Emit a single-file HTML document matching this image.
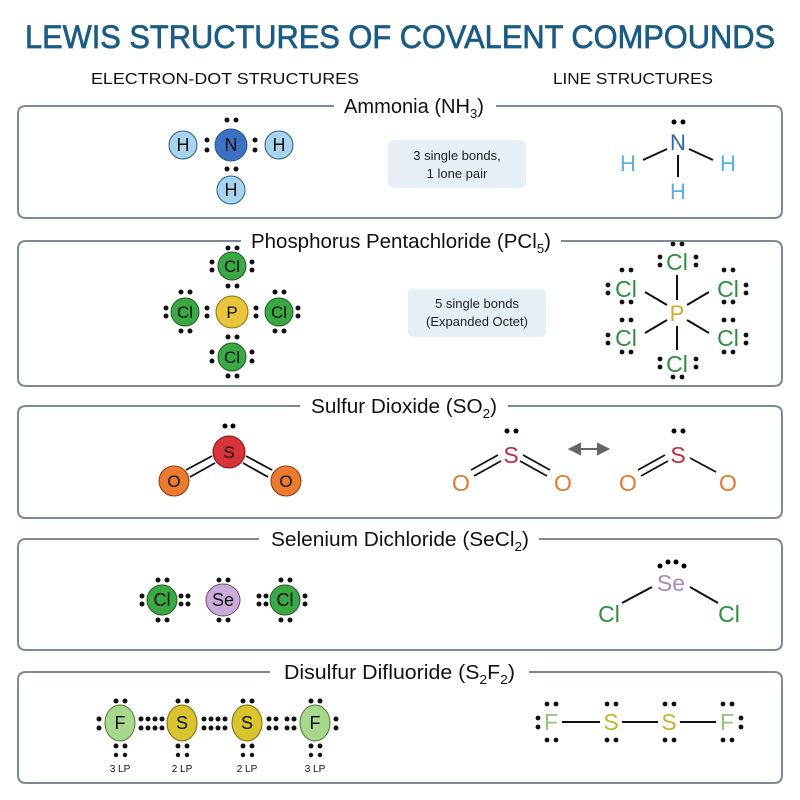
<!DOCTYPE html>
<html><head><meta charset="utf-8"><style>
html,body{margin:0;padding:0;background:#fff}
svg{display:block}
text{font-family:"Liberation Sans",sans-serif}
</style></head><body>
<svg width="800" height="800" viewBox="0 0 800 800" xmlns="http://www.w3.org/2000/svg">
<rect width="800" height="800" fill="#fff"/>
<text x="400" y="48" text-anchor="middle" font-size="32" fill="#1b5c84" stroke="#1b5c84" stroke-width="0.7" textLength="750" lengthAdjust="spacingAndGlyphs">LEWIS STRUCTURES OF COVALENT COMPOUNDS</text>
<text x="225" y="84" text-anchor="middle" font-size="16" fill="#111" textLength="268" lengthAdjust="spacingAndGlyphs">ELECTRON-DOT STRUCTURES</text>
<text x="633" y="84" text-anchor="middle" font-size="16" fill="#111" textLength="160" lengthAdjust="spacingAndGlyphs">LINE STRUCTURES</text>

<g fill="none" stroke="#7d8a94" stroke-width="2">
<path d="M334 106 H26 Q18 106 18 114 V210 Q18 218 26 218 H774 Q782 218 782 210 V114 Q782 106 774 106 H496"/>
<path d="M241 241 H26 Q18 241 18 249 V378 Q18 386 26 386 H774 Q782 386 782 378 V249 Q782 241 774 241 H561"/>
<path d="M300 406 H26 Q18 406 18 414 V510 Q18 518 26 518 H774 Q782 518 782 510 V414 Q782 406 774 406 H508"/>
<path d="M259 539 H26 Q18 539 18 547 V642 Q18 650 26 650 H774 Q782 650 782 642 V547 Q782 539 774 539 H539"/>
<path d="M270 672 H26 Q18 672 18 680 V775 Q18 783 26 783 H774 Q782 783 782 775 V680 Q782 672 774 672 H529"/>
</g>
<g font-size="20" fill="#111">
<text x="344" y="113" textLength="140" lengthAdjust="spacingAndGlyphs">Ammonia (NH<tspan font-size="13" dy="5">3</tspan><tspan dy="-5">)</tspan></text>
<text x="251" y="248" textLength="300" lengthAdjust="spacingAndGlyphs">Phosphorus Pentachloride (PCl<tspan font-size="13" dy="5">5</tspan><tspan dy="-5">)</tspan></text>
<text x="311" y="413" textLength="186" lengthAdjust="spacingAndGlyphs">Sulfur Dioxide (SO<tspan font-size="13" dy="5">2</tspan><tspan dy="-5">)</tspan></text>
<text x="271" y="546" textLength="258" lengthAdjust="spacingAndGlyphs">Selenium Dichloride (SeCl<tspan font-size="13" dy="5">2</tspan><tspan dy="-5">)</tspan></text>
<text x="284" y="679" textLength="231" lengthAdjust="spacingAndGlyphs">Disulfur Difluoride (S<tspan font-size="13" dy="5">2</tspan><tspan dy="-5">F</tspan><tspan font-size="13" dy="5">2</tspan><tspan dy="-5">)</tspan></text>
</g>

<!-- note boxes -->
<rect x="388" y="140" width="138" height="48" rx="5" fill="#e5eff5"/>
<text x="457" y="160" text-anchor="middle" font-size="13" fill="#222">3 single bonds,</text>
<text x="457" y="178" text-anchor="middle" font-size="13" fill="#222">1 lone pair</text>
<rect x="408" y="289" width="138" height="48" rx="5" fill="#e5eff5"/>
<text x="477" y="308" text-anchor="middle" font-size="13" fill="#222">5 single bonds</text>
<text x="477" y="326" text-anchor="middle" font-size="13" fill="#222">(Expanded Octet)</text>

<!-- AMMONIA dot -->
<g stroke="#2b5f8a" stroke-width="1">
<circle cx="183" cy="145" r="14" fill="#a9d4ee"/>
<circle cx="279" cy="145" r="14" fill="#a9d4ee"/>
<circle cx="231" cy="190" r="14" fill="#a9d4ee"/>
<circle cx="231" cy="145" r="16" fill="#3d6fc4"/>
</g>
<g font-size="18" text-anchor="middle" fill="#111">
<text x="183" y="151">H</text><text x="279" y="151">H</text><text x="231" y="196">H</text><text x="231" y="151">N</text>
</g>
<g fill="#111">
<circle cx="227" cy="120" r="2.5"/><circle cx="236" cy="120" r="2.5"/>
<circle cx="207" cy="140" r="2.5"/><circle cx="207" cy="150" r="2.5"/>
<circle cx="255" cy="140" r="2.5"/><circle cx="255" cy="150" r="2.5"/>
<circle cx="227" cy="169" r="2.5"/><circle cx="236" cy="169" r="2.5"/>
</g>
<!-- AMMONIA line -->
<g stroke="#111" stroke-width="2"><line x1="667" y1="149" x2="643" y2="160"/><line x1="689" y1="149" x2="713" y2="160"/><line x1="678" y1="155" x2="678" y2="177"/></g>
<text x="678" y="150" text-anchor="middle" font-size="22" fill="#2a66b0">N</text>
<g font-size="22" text-anchor="middle" fill="#5ab0e2"><text x="628" y="171">H</text><text x="728" y="171">H</text><text x="678" y="199">H</text></g>
<circle cx="674" cy="122" r="2.5"/><circle cx="683" cy="122" r="2.5"/>

<!-- PCl5 dot -->
<g stroke="#1f5a22" stroke-width="1" fill="#3aa845">
<circle cx="232" cy="266" r="14"/><circle cx="185" cy="312" r="14"/><circle cx="279" cy="312" r="14"/><circle cx="232" cy="357" r="14"/>
</g>
<circle cx="232" cy="312" r="16" fill="#e8c53a" stroke="#8a7010"/>
<g font-size="17" text-anchor="middle" fill="#111">
<text x="232" y="272">Cl</text><text x="185" y="318">Cl</text><text x="279" y="318">Cl</text><text x="232" y="363">Cl</text><text x="232" y="318">P</text>
</g>
<g fill="#111">
<circle cx="228" cy="248" r="2.5"/><circle cx="237" cy="248" r="2.5"/>
<circle cx="212" cy="262" r="2.5"/><circle cx="212" cy="270" r="2.5"/><circle cx="252" cy="262" r="2.5"/><circle cx="252" cy="270" r="2.5"/>
<circle cx="228" cy="286" r="2.5"/><circle cx="237" cy="286" r="2.5"/>
<circle cx="181" cy="292" r="2.5"/><circle cx="190" cy="292" r="2.5"/><circle cx="181" cy="331" r="2.5"/><circle cx="190" cy="331" r="2.5"/>
<circle cx="166" cy="308" r="2.5"/><circle cx="166" cy="316" r="2.5"/><circle cx="207" cy="308" r="2.5"/><circle cx="207" cy="316" r="2.5"/>
<circle cx="256" cy="308" r="2.5"/><circle cx="256" cy="316" r="2.5"/><circle cx="298" cy="308" r="2.5"/><circle cx="298" cy="316" r="2.5"/>
<circle cx="275" cy="292" r="2.5"/><circle cx="284" cy="292" r="2.5"/><circle cx="275" cy="331" r="2.5"/><circle cx="284" cy="331" r="2.5"/>
<circle cx="228" cy="337" r="2.5"/><circle cx="237" cy="337" r="2.5"/>
<circle cx="212" cy="352" r="2.5"/><circle cx="212" cy="361" r="2.5"/><circle cx="252" cy="352" r="2.5"/><circle cx="252" cy="361" r="2.5"/>
<circle cx="228" cy="376" r="2.5"/><circle cx="237" cy="376" r="2.5"/>
</g>
<!-- PCl5 line -->
<g stroke="#111" stroke-width="2">
<line x1="677" y1="275" x2="677" y2="300"/><line x1="677" y1="326" x2="677" y2="350"/>
<line x1="645" y1="292" x2="667" y2="305"/><line x1="709" y1="292" x2="687" y2="305"/>
<line x1="645" y1="333" x2="667" y2="320"/><line x1="709" y1="333" x2="687" y2="320"/>
</g>
<text x="677" y="321" text-anchor="middle" font-size="22" fill="#d4a62a">P</text>
<g font-size="23" text-anchor="middle" fill="#2e8f3a">
<text x="677" y="270">Cl</text><text x="626" y="297">Cl</text><text x="728" y="297">Cl</text><text x="626" y="346">Cl</text><text x="728" y="346">Cl</text><text x="677" y="372">Cl</text>
</g>
<g fill="#111">
<circle cx="673" cy="244" r="2.4"/><circle cx="682" cy="244" r="2.4"/><circle cx="660" cy="257" r="2.4"/><circle cx="660" cy="265" r="2.4"/><circle cx="696" cy="257" r="2.4"/><circle cx="696" cy="265" r="2.4"/>
<circle cx="622" cy="270" r="2.4"/><circle cx="631" cy="270" r="2.4"/><circle cx="622" cy="302" r="2.4"/><circle cx="631" cy="302" r="2.4"/><circle cx="608" cy="285" r="2.4"/><circle cx="608" cy="293" r="2.4"/>
<circle cx="724" cy="270" r="2.4"/><circle cx="733" cy="270" r="2.4"/><circle cx="724" cy="302" r="2.4"/><circle cx="733" cy="302" r="2.4"/><circle cx="746" cy="285" r="2.4"/><circle cx="746" cy="293" r="2.4"/>
<circle cx="622" cy="320" r="2.4"/><circle cx="631" cy="320" r="2.4"/><circle cx="622" cy="352" r="2.4"/><circle cx="631" cy="352" r="2.4"/><circle cx="608" cy="335" r="2.4"/><circle cx="608" cy="343" r="2.4"/>
<circle cx="724" cy="320" r="2.4"/><circle cx="733" cy="320" r="2.4"/><circle cx="724" cy="352" r="2.4"/><circle cx="733" cy="352" r="2.4"/><circle cx="746" cy="335" r="2.4"/><circle cx="746" cy="343" r="2.4"/>
<circle cx="660" cy="359" r="2.4"/><circle cx="660" cy="367" r="2.4"/><circle cx="696" cy="359" r="2.4"/><circle cx="696" cy="367" r="2.4"/><circle cx="673" cy="377" r="2.4"/><circle cx="682" cy="377" r="2.4"/>
</g>

<!-- SO2 dot -->
<g stroke="#111" stroke-width="1.8">
<line x1="186" y1="470" x2="212" y2="456"/><line x1="190" y1="477" x2="215" y2="463"/>
<line x1="246" y1="456" x2="272" y2="470"/><line x1="243" y1="463" x2="268" y2="477"/>
</g>
<circle cx="174" cy="481" r="15" fill="#ea7a30" stroke="#8a3a10"/>
<circle cx="286" cy="481" r="15" fill="#ea7a30" stroke="#8a3a10"/>
<circle cx="229" cy="452" r="16" fill="#d8323a" stroke="#7a1010"/>
<g font-size="17" text-anchor="middle" fill="#111"><text x="174" y="487">O</text><text x="286" y="487">O</text><text x="229" y="458">S</text></g>
<circle cx="225" cy="426" r="2.5"/><circle cx="233" cy="426" r="2.5"/>
<!-- SO2 line -->
<g stroke="#111" stroke-width="1.8">
<line x1="471" y1="470" x2="498" y2="455"/><line x1="474" y1="476" x2="501" y2="461"/>
<line x1="523" y1="455" x2="550" y2="470"/><line x1="520" y1="461" x2="547" y2="476"/>
<line x1="638" y1="470" x2="665" y2="455"/><line x1="641" y1="476" x2="668" y2="461"/>
<line x1="690" y1="458" x2="716" y2="472"/>
</g>
<g font-size="23" text-anchor="middle">
<text x="511" y="463" fill="#b83040">S</text><text x="461" y="491" fill="#e07a30">O</text><text x="563" y="491" fill="#e07a30">O</text>
<text x="678" y="463" fill="#b83040">S</text><text x="628" y="491" fill="#e07a30">O</text><text x="728" y="491" fill="#e07a30">O</text>
</g>
<circle cx="507" cy="431" r="2.5"/><circle cx="516" cy="431" r="2.5"/>
<circle cx="674" cy="431" r="2.5"/><circle cx="683" cy="431" r="2.5"/>
<g stroke="#666" stroke-width="2" fill="#666">
<line x1="578" y1="449" x2="600" y2="449"/>
<polygon points="570,449 580,444 580,454"/><polygon points="608,449 598,444 598,454"/>
</g>

<!-- SeCl2 dot -->
<g stroke="#1f5a22" fill="#3aa845"><circle cx="162" cy="600" r="15"/><circle cx="285" cy="600" r="15"/></g>
<ellipse cx="223" cy="600" rx="17" ry="16" fill="#c9aad8" stroke="#6a4a80"/>
<g font-size="18" text-anchor="middle" fill="#111"><text x="162" y="606">Cl</text><text x="223" y="606">Se</text><text x="285" y="606">Cl</text></g>
<g fill="#111">
<circle cx="158" cy="580" r="2.5"/><circle cx="167" cy="580" r="2.5"/><circle cx="158" cy="620" r="2.5"/><circle cx="167" cy="620" r="2.5"/>
<circle cx="219" cy="580" r="2.5"/><circle cx="228" cy="580" r="2.5"/><circle cx="219" cy="620" r="2.5"/><circle cx="228" cy="620" r="2.5"/>
<circle cx="281" cy="580" r="2.5"/><circle cx="290" cy="580" r="2.5"/><circle cx="281" cy="620" r="2.5"/><circle cx="290" cy="620" r="2.5"/>
<circle cx="142" cy="596" r="2.5"/><circle cx="142" cy="604" r="2.5"/>
<circle cx="181" cy="596" r="2.5"/><circle cx="181" cy="604" r="2.5"/><circle cx="188" cy="596" r="2.5"/><circle cx="188" cy="604" r="2.5"/>
<circle cx="259" cy="596" r="2.5"/><circle cx="259" cy="604" r="2.5"/><circle cx="266" cy="596" r="2.5"/><circle cx="266" cy="604" r="2.5"/>
<circle cx="305" cy="596" r="2.5"/><circle cx="305" cy="604" r="2.5"/>
</g>
<!-- SeCl2 line -->
<g stroke="#111" stroke-width="2"><line x1="622" y1="603" x2="652" y2="587"/><line x1="690" y1="587" x2="718" y2="603"/></g>
<text x="671" y="591" text-anchor="middle" font-size="23" fill="#a888c2">Se</text>
<g font-size="23" text-anchor="middle" fill="#2e8f3a"><text x="609" y="622">Cl</text><text x="729" y="622">Cl</text></g>
<circle cx="660" cy="566" r="2.5"/><circle cx="668" cy="562" r="2.5"/><circle cx="676" cy="562" r="2.5"/><circle cx="684" cy="566" r="2.5"/>

<!-- S2F2 dot -->
<g stroke="#4a7a30"><ellipse cx="120" cy="723" rx="15" ry="18" fill="#a8d88e"/><ellipse cx="315" cy="723" rx="15" ry="18" fill="#a8d88e"/></g>
<g stroke="#7a6a10"><ellipse cx="182" cy="723" rx="15" ry="18" fill="#d8c42e"/><ellipse cx="247" cy="723" rx="15" ry="18" fill="#d8c42e"/></g>
<g font-size="18" text-anchor="middle" fill="#111"><text x="120" y="729">F</text><text x="182" y="729">S</text><text x="247" y="729">S</text><text x="315" y="729">F</text></g>
<g font-size="10" text-anchor="middle" fill="#111"><text x="120" y="772">3 LP</text><text x="182" y="772">2 LP</text><text x="247" y="772">2 LP</text><text x="315" y="772">3 LP</text></g>
<g fill="#111">
<circle cx="116" cy="701" r="2.5"/><circle cx="125" cy="701" r="2.5"/><circle cx="116" cy="746" r="2.5"/><circle cx="125" cy="746" r="2.5"/><circle cx="116" cy="755" r="2.2"/><circle cx="125" cy="755" r="2.2"/>
<circle cx="178" cy="701" r="2.5"/><circle cx="187" cy="701" r="2.5"/><circle cx="178" cy="746" r="2.5"/><circle cx="187" cy="746" r="2.5"/><circle cx="178" cy="755" r="2.2"/><circle cx="187" cy="755" r="2.2"/>
<circle cx="243" cy="701" r="2.5"/><circle cx="252" cy="701" r="2.5"/><circle cx="243" cy="746" r="2.5"/><circle cx="252" cy="746" r="2.5"/><circle cx="243" cy="755" r="2.2"/><circle cx="252" cy="755" r="2.2"/>
<circle cx="311" cy="701" r="2.5"/><circle cx="320" cy="701" r="2.5"/><circle cx="311" cy="746" r="2.5"/><circle cx="320" cy="746" r="2.5"/><circle cx="311" cy="755" r="2.2"/><circle cx="320" cy="755" r="2.2"/>
<circle cx="99" cy="719" r="2.5"/><circle cx="99" cy="728" r="2.5"/>
<circle cx="141" cy="719" r="2.5"/><circle cx="141" cy="728" r="2.5"/><circle cx="148" cy="719" r="2.5"/><circle cx="148" cy="728" r="2.5"/><circle cx="155" cy="719" r="2.5"/><circle cx="155" cy="728" r="2.5"/><circle cx="162" cy="719" r="2.5"/><circle cx="162" cy="728" r="2.5"/>
<circle cx="204" cy="719" r="2.5"/><circle cx="204" cy="728" r="2.5"/><circle cx="211" cy="719" r="2.5"/><circle cx="211" cy="728" r="2.5"/><circle cx="218" cy="719" r="2.5"/><circle cx="218" cy="728" r="2.5"/><circle cx="225" cy="719" r="2.5"/><circle cx="225" cy="728" r="2.5"/>
<circle cx="269" cy="719" r="2.5"/><circle cx="269" cy="728" r="2.5"/><circle cx="276" cy="719" r="2.5"/><circle cx="276" cy="728" r="2.5"/><circle cx="287" cy="719" r="2.5"/><circle cx="287" cy="728" r="2.5"/><circle cx="294" cy="719" r="2.5"/><circle cx="294" cy="728" r="2.5"/>
<circle cx="336" cy="719" r="2.5"/><circle cx="336" cy="728" r="2.5"/>
</g>
<!-- S2F2 line -->
<g stroke="#111" stroke-width="2"><line x1="562" y1="722" x2="600" y2="722"/><line x1="622" y1="722" x2="658" y2="722"/><line x1="680" y1="722" x2="716" y2="722"/></g>
<g font-size="23" text-anchor="middle">
<text x="551" y="730" fill="#8ec878">F</text><text x="611" y="730" fill="#c8b02a">S</text><text x="669" y="730" fill="#c8b02a">S</text><text x="727" y="730" fill="#8ec878">F</text>
</g>
<g fill="#111">
<circle cx="547" cy="704" r="2.4"/><circle cx="556" cy="704" r="2.4"/><circle cx="547" cy="740" r="2.4"/><circle cx="556" cy="740" r="2.4"/>
<circle cx="607" cy="704" r="2.4"/><circle cx="616" cy="704" r="2.4"/><circle cx="607" cy="740" r="2.4"/><circle cx="616" cy="740" r="2.4"/>
<circle cx="665" cy="704" r="2.4"/><circle cx="674" cy="704" r="2.4"/><circle cx="665" cy="740" r="2.4"/><circle cx="674" cy="740" r="2.4"/>
<circle cx="723" cy="704" r="2.4"/><circle cx="732" cy="704" r="2.4"/><circle cx="723" cy="740" r="2.4"/><circle cx="732" cy="740" r="2.4"/>
<circle cx="538" cy="718" r="2.4"/><circle cx="538" cy="727" r="2.4"/><circle cx="741" cy="718" r="2.4"/><circle cx="741" cy="727" r="2.4"/>
</g>
</svg>
</body></html>
